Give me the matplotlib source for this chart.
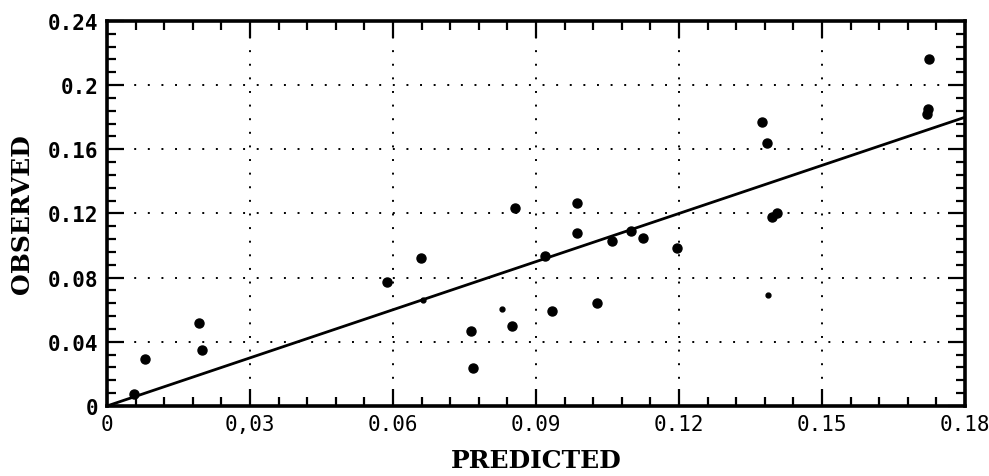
import matplotlib.pyplot as plt
from matplotlib.ticker import MultipleLocator, FixedLocator

predicted = [0.0057, 0.0080, 0.0193, 0.0199, 0.0587, 0.0659, 0.0663, 0.0764,
             0.0768, 0.0829, 0.0850, 0.0856, 0.0919, 0.0933, 0.0986, 0.0986,
             0.1028, 0.1060, 0.1100, 0.1124, 0.1196, 0.1387, 0.1374, 0.1385,
             0.1395, 0.1405, 0.1724, 0.1720, 0.1722]
observed = [0.0075, 0.0290, 0.0517, 0.0349, 0.0773, 0.0923, 0.0660, 0.0468,
            0.0237, 0.0605, 0.0500, 0.1234, 0.0935, 0.0592, 0.1080, 0.1266,
            0.0642, 0.1030, 0.1090, 0.1047, 0.0985, 0.0690, 0.1770, 0.1640,
            0.1180, 0.1200, 0.2163, 0.1820, 0.1850]
small_pts = [False, False, False, False, False, False, True, False,
             False, True, False, False, False, False, False, False,
             False, False, False, False, False, True, False, False,
             False, False, False, False, False]

line_x = [0, 0.18]
line_y = [0, 0.18]

xticks = [0, 0.03, 0.06, 0.09, 0.12, 0.15, 0.18]
xlabels = ['0', '0,03', '0.06', '0.09', '0.12', '0.15', '0.18']
yticks = [0, 0.04, 0.08, 0.12, 0.16, 0.2, 0.24]
ylabels = ['0', '0.04', '0.08', '0.12', '0.16', '0.2', '0.24']

fig = plt.figure(figsize=(9.89, 4.77), dpi=100)
ax = fig.add_axes([0.1082, 0.1468, 0.8675, 0.8071])

# dotted grid at the inner major ticks only
for gx in xticks[1:-1]:
    ax.axvline(gx, color='black', lw=1.4, ls=(0, (1, 6)), zorder=1)
for gy in yticks[1:-1]:
    ax.axhline(gy, color='black', lw=1.4, ls=(0, (1, 6)), zorder=1)

ax.plot(line_x, line_y, color='black', lw=2.0, zorder=2)

big_x = [p for p, s in zip(predicted, small_pts) if not s]
big_y = [o for o, s in zip(observed, small_pts) if not s]
sm_x = [p for p, s in zip(predicted, small_pts) if s]
sm_y = [o for o, s in zip(observed, small_pts) if s]
ax.plot(big_x, big_y, ls='none', marker='o', ms=6.5, color='black', zorder=3)
ax.plot(sm_x, sm_y, ls='none', marker='o', ms=3.5, color='black', zorder=3)

ax.set_xlim(0, 0.18)
ax.set_ylim(0, 0.24)
ax.xaxis.set_major_locator(FixedLocator(xticks))
ax.yaxis.set_major_locator(FixedLocator(yticks))
ax.xaxis.set_minor_locator(MultipleLocator(0.006))
ax.yaxis.set_minor_locator(MultipleLocator(0.008))
ax.set_xticklabels(xlabels, family='DejaVu Sans Mono', fontsize=15)
ax.set_yticklabels(ylabels, family='DejaVu Sans Mono', fontsize=15,
                   fontweight='bold')

ax.tick_params(which='both', direction='in', top=True, right=True,
               width=1.6, color='black')
ax.tick_params(which='major', length=12, pad=6)
ax.tick_params(which='minor', length=6.5)

for s in ax.spines.values():
    s.set_linewidth(2.6)

ax.set_xlabel('PREDICTED', family='DejaVu Serif', fontweight='heavy',
              fontsize=18, labelpad=10)
ax.set_ylabel('OBSERVED', family='DejaVu Serif', fontweight='heavy',
              fontsize=18, labelpad=10)

fig.savefig('out.png', dpi=100)
